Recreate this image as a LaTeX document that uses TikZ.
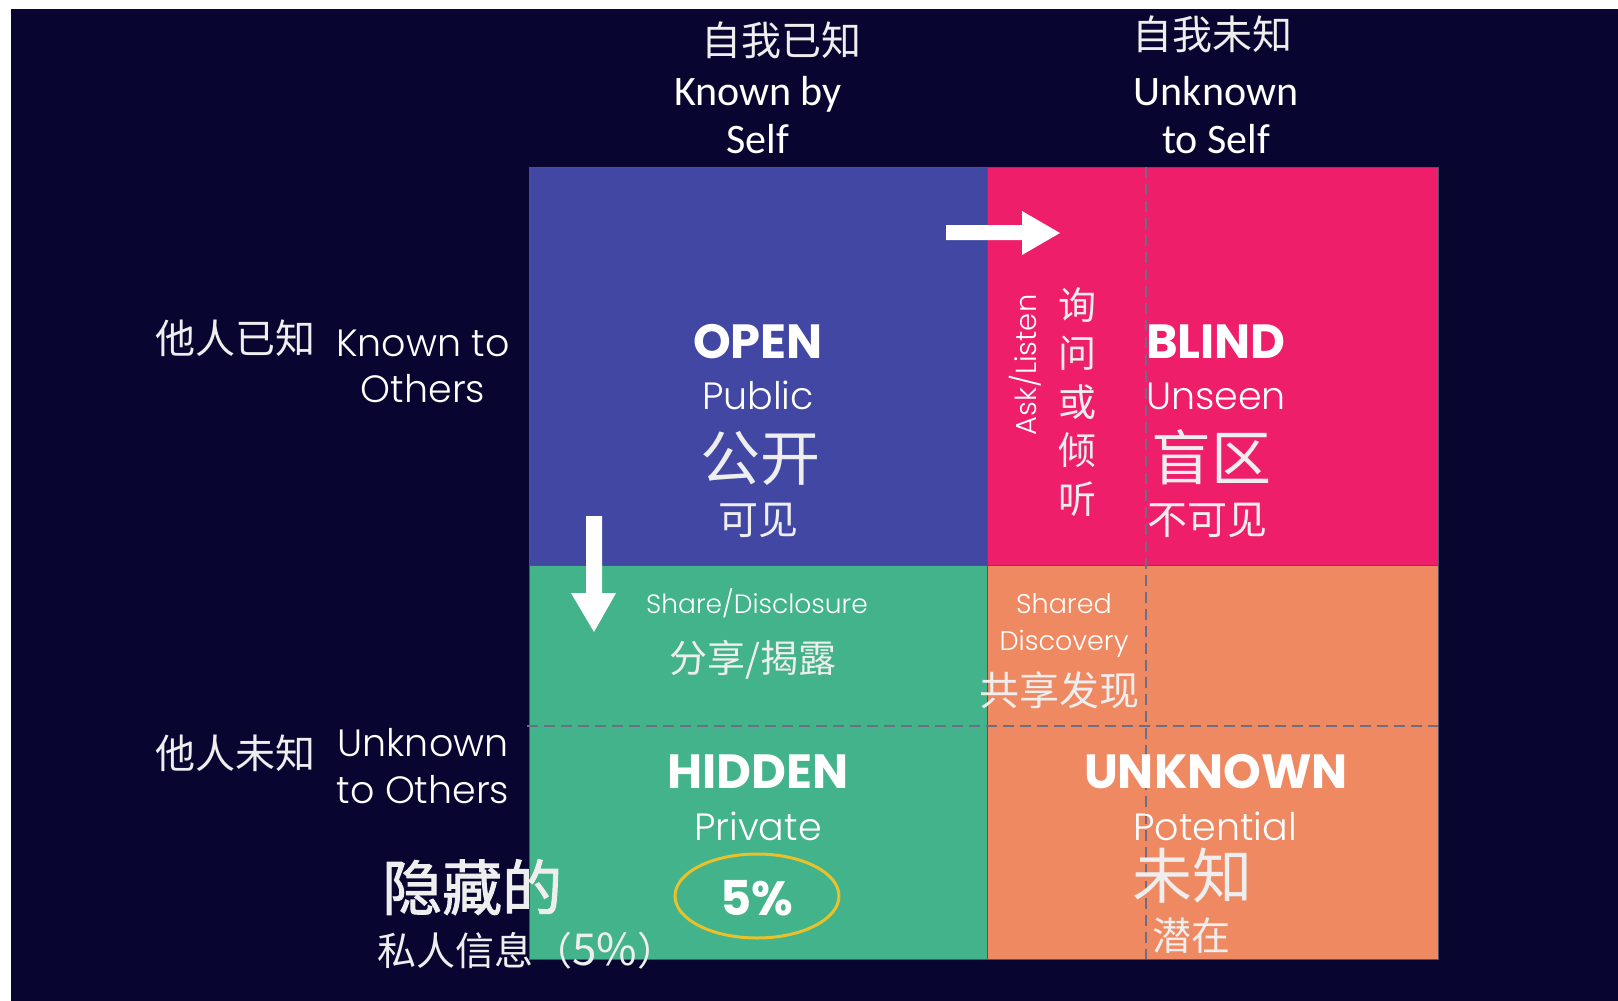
\documentclass[tikz,border=0pt]{standalone}
\usetikzlibrary{shapes.geometric}
\usepackage{fontspec}
\setmainfont{Poppins}
\newfontfamily\plight{Poppins Light}
\newfontfamily\cjk{Noto Sans CJK SC}
\newfontfamily\cjkmed{Noto Sans CJK SC}[FakeBold=1.6]
\newfontfamily\carl{Carlito}
\definecolor{bgnavy}{HTML}{080630}
\definecolor{qpurple}{HTML}{4147A3}
\definecolor{qpink}{HTML}{EE1E6B}
\definecolor{qgreen}{HTML}{42B38B}
\definecolor{qorange}{HTML}{EE8962}
\definecolor{qyellow}{HTML}{E9C12A}
\definecolor{dashgray}{HTML}{6C6E86}
\definecolor{cjkwhite}{HTML}{EEEEEE}
\newcommand{\fs}[1]{\fontsize{#1}{#1}\selectfont}
\tikzset{
  cell/.style={draw=bgnavy!70, line width=1pt},
  divline/.style={draw=dashgray, line width=2pt, dash pattern=on 11pt off 6pt},
  entxt/.style={text=white, inner sep=0pt, anchor=base},
  cntxt/.style={text=cjkwhite, inner sep=0pt, anchor=base, font=\cjk},
  title/.style={entxt, font=\bfseries\fs{48}},
  sub/.style={entxt, font=\plight\fs{38}},
  side/.style={entxt, font=\plight\fs{38}},
  top/.style={entxt, font=\carl\fs{42}},
  arrowshape/.style={fill=white, draw=none},
}
\begin{document}
\begin{tikzpicture}[x=1pt,y=-1pt]
\useasboundingbox (0,0) rectangle (1618,1001);
\fill[white] (0,0) rectangle (1618,1001);
\fill[bgnavy] (11,9) rectangle (1618,1001);

% quadrants
\filldraw[cell, fill=qpurple] (529,167) rectangle (987,565);
\filldraw[cell, fill=qpink] (987,167) rectangle (1438,565);
\filldraw[cell, fill=qgreen] (529,565) rectangle (987,959);
\filldraw[cell, fill=qorange] (987,565) rectangle (1438,959);

% dashed dividers
\coordinate (vtop) at (1146,167);
\coordinate (vbot) at (1146,959);
\coordinate (hl) at (527,726);
\coordinate (hr) at (1438,726);
\draw[divline] (vtop) -- (vbot);
\draw[divline] (hl) -- (hr);

% top headings
\node[cntxt, font=\cjk\fs{40}] (tks) at (781,55) {自我已知};
\node[top] (tks1) at (758,105) {Known by};
\node[top] (tks2) at (758,153) {Self};
\node[cntxt, font=\cjk\fs{40}] (tus) at (1212,49) {自我未知};
\node[top] (tus1) at (1216,105) {Unknown};
\node[top] (tus2) at (1216,153) {to Self};

% side headings
\node[cntxt, font=\cjk\fs{40}] (lko) at (235,353) {他人已知};
\node[side] (lko1) at (423,356) {Known to};
\node[side] (lko2) at (423,402) {Others};
\node[cntxt, font=\cjk\fs{40}] (luo) at (235,768) {他人未知};
\node[side] (luo1) at (423,756) {Unknown};
\node[side] (luo2) at (423,803) {to Others};

% OPEN
\node[title] (open) at (758,358) {OPEN};
\node[sub] (public) at (758,409) {Public};
\node[cntxt, font=\cjk\fs{60}] (gk) at (760,480) {公开};
\node[cntxt, font=\cjk\fs{40}] (kj) at (758,534) {可见};

% BLIND
\node[title] (blind) at (1216,358) {BLIND};
\node[sub] (unseen) at (1216,409) {Unseen};
\node[cntxt, font=\cjk\fs{60}] (mq) at (1211,480) {盲区};
\node[cntxt, font=\cjk\fs{40}] (bkj) at (1207,534) {不可见};

% Ask / Listen
\node[text=white, inner sep=0pt, font=\plight\fs{29}, rotate=90] (ask) at (1025,365) {Ask/Listen};
\node[text=cjkwhite, inner sep=0pt, font=\cjk\fontsize{38}{48.5}\selectfont, align=center] (xw) at (1077,402) {询\\问\\或\\倾\\听};

% Share / Disclosure
\node[entxt, font=\plight\fs{26.5}] (share) at (757,613) {Share/Disclosure};
\node[cntxt, font=\cjk\fs{38}] (fx) at (753,672) {分享/揭露};

% Shared discovery
\node[entxt, font=\plight\fs{27}] (shd1) at (1064,613) {Shared};
\node[entxt, font=\plight\fs{27}] (shd2) at (1064,650) {Discovery};
\node[cntxt, font=\cjk\fs{40}] (gxfx) at (1059,705) {共享发现};

% HIDDEN
\node[title] (hidden) at (758,788) {HIDDEN};
\node[sub] (private) at (758,840) {Private};
\node[draw=qyellow, line width=3pt, ellipse, minimum width=164pt, minimum height=84pt, inner sep=0pt] (ell) at (757,896) {};
\node[entxt, font=\bfseries\fs{48}] (pct) at (757,915) {5\%};
\node[cntxt, font=\cjkmed\fs{60}, anchor=base west] (ycd) at (382,910) {隐藏的};
\node[cntxt, font=\cjk\fs{39}, anchor=base west] (srxx) at (377,965) {私人信息（\fs{44}5\%\fs{39}）};

% UNKNOWN
\node[title] (unknown) at (1216,788) {UNKNOWN};
\node[sub] (potential) at (1215,840) {Potential};
\node[cntxt, font=\cjk\fs{60}] (wz) at (1192,898) {未知};
\node[cntxt, font=\cjk\fs{39}] (qz) at (1191,950) {潜在};

% arrows
\fill[arrowshape] (946,225) -- (1022,225) -- (1022,211) -- (1060,233) -- (1022,255) -- (1022,240) -- (946,240) -- cycle;
\fill[arrowshape] (586,516) -- (602,516) -- (602,593) -- (616,593) -- (594,632) -- (571,593) -- (586,593) -- cycle;
\end{tikzpicture}
\end{document}
